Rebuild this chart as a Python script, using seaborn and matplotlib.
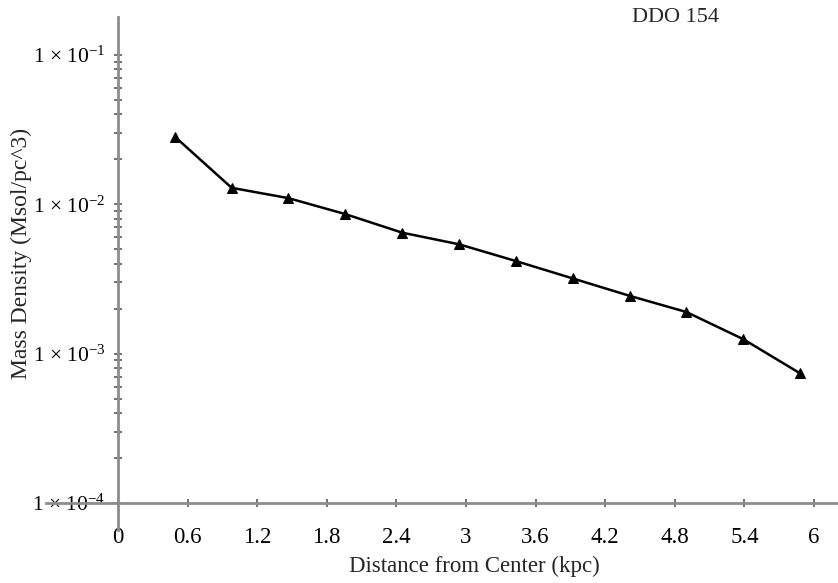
import numpy as np
import pandas as pd
import matplotlib
matplotlib.use("Agg")
import matplotlib.pyplot as plt
import matplotlib.ticker as mticker
import seaborn as sns

# valores
distance = [0.49, 0.98, 1.47, 1.96, 2.45, 2.94, 3.43, 3.92, 4.41, 4.90, 5.39, 5.88]
density = [0.0284, 0.0129, 0.0110, 0.0086, 0.00646, 0.00540, 0.00417,
           0.00319, 0.00244, 0.00190, 0.00125, 0.000738]
x_ticks = [0, 0.6, 1.2, 1.8, 2.4, 3, 3.6, 4.2, 4.8, 5.4, 6]
x_tick_labels = ["0", "0.6", "1.2", "1.8", "2.4", "3", "3.6", "4.2", "4.8", "5.4", "6"]
y_ticks = [1e-4, 1e-3, 1e-2, 1e-1]
y_tick_labels = [r"1 × 10$^{-4}$", r"1 × 10$^{-3}$", r"1 × 10$^{-2}$", r"1 × 10$^{-1}$"]

data = pd.DataFrame({"distance": distance, "density": density})

sns.set_style("white")
plt.rcParams["font.family"] = ["Liberation Serif", "DejaVu Serif"]
plt.rcParams["mathtext.fontset"] = "custom"
plt.rcParams["mathtext.rm"] = "Liberation Serif"
plt.rcParams["mathtext.it"] = "Liberation Serif:italic"

fig = plt.figure(figsize=(8.38, 5.83), dpi=100)
ax = fig.add_axes([46 / 838, 1 - 530 / 583, 791 / 838, 513 / 583])

sns.lineplot(data=data, x="distance", y="density", ax=ax, color="black",
             linewidth=1.8, marker="^", markersize=7, markeredgecolor="black")

ax.set_yscale("log")
ax.set_xlim(-0.62, 6.198)
ax.set_ylim(10 ** -4.181, 10 ** -0.7455)

gray = "#8c8c8c"
ax.spines["left"].set_position(("data", 0))
ax.spines["bottom"].set_position(("data", 1e-4))
ax.spines["top"].set_visible(False)
ax.spines["right"].set_visible(False)
for s in ["left", "bottom"]:
    ax.spines[s].set_color(gray)
    ax.spines[s].set_linewidth(2)

ax.set_xticks(x_ticks)
ax.set_xticklabels(x_tick_labels)
ax.set_yticks(y_ticks)
ax.set_yticklabels(y_tick_labels)
# ticks menores so entre 1e-4 e 1e-1
minor = [m * d for d in y_ticks[:-1] for m in range(2, 10)]
ax.yaxis.set_minor_locator(mticker.FixedLocator(minor))
ax.yaxis.set_minor_formatter(mticker.NullFormatter())

ax.tick_params(axis="both", which="both", direction="inout", length=6, width=1.3,
               color="#666666", labelcolor="black", bottom=True, left=True)
ax.tick_params(axis="x", labelsize=16.5, pad=14)
ax.tick_params(axis="y", labelsize=15.5, pad=6)

ax.set_xlabel("Distance from Center (kpc)", fontsize=16.5)
ax.set_ylabel("Mass Density (Msol/pc^3)", fontsize=17)
ax.xaxis.set_label_coords(0.542, -0.05)
ax.yaxis.set_label_coords(-0.0177, 0.54)

fig.text(632 / 838, 1 - 17 / 583, "DDO 154", fontsize=16, ha="left", va="center")

fig.savefig("out.png", dpi=100)
